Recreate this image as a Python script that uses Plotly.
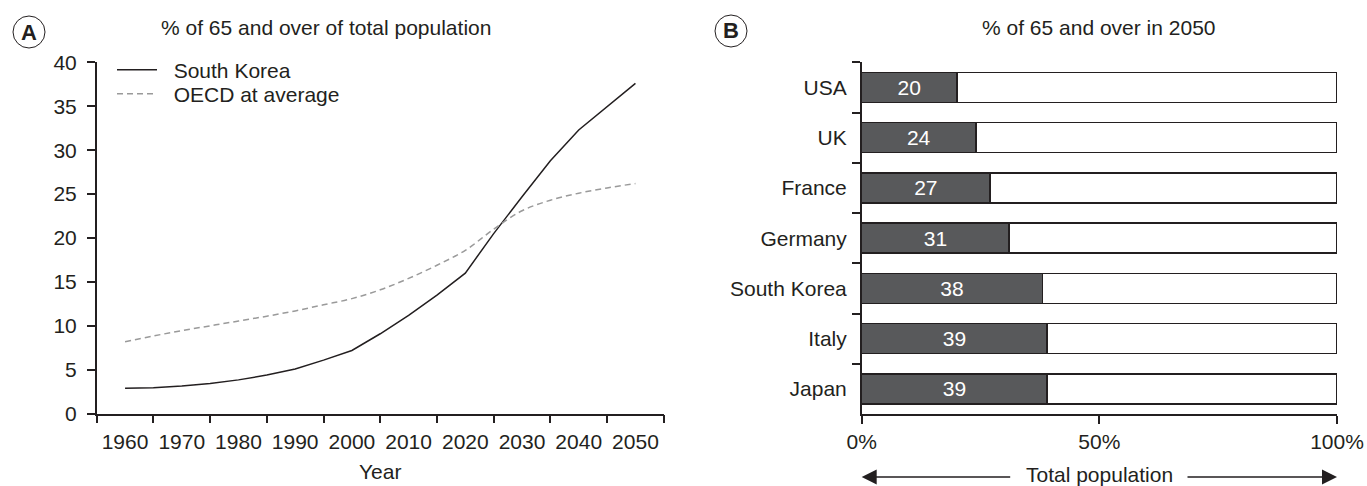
import plotly.graph_objects as go

# ---------------- data ----------------
years = [1960, 1965, 1970, 1975, 1980, 1985, 1990, 1995, 2000, 2005,
         2010, 2015, 2020, 2025, 2030, 2035, 2040, 2045, 2050]
korea = [2.9, 2.95, 3.15, 3.45, 3.85, 4.4, 5.1, 6.1, 7.2, 9.1,
         11.2, 13.5, 16.0, 20.5, 24.7, 28.8, 32.3, 35.0, 37.6]
oecd = [8.2, 8.85, 9.45, 10.0, 10.55, 11.1, 11.7, 12.4, 13.1, 14.1,
        15.4, 16.9, 18.6, 21.0, 23.1, 24.3, 25.1, 25.7, 26.2]

year_ticks = [1960, 1970, 1980, 1990, 2000, 2010, 2020, 2030, 2040, 2050]
y_ticks = [0, 5, 10, 15, 20, 25, 30, 35, 40]

countries = ["USA", "UK", "France", "Germany", "South Korea", "Italy", "Japan"]
share_2050 = [20, 24, 27, 31, 38, 39, 39]
pct_ticks = [0, 50, 100]
pct_labels = ["0%", "50%", "100%"]

# ---------------- styling ----------------
W, H = 1367, 486
FONT = "Liberation Sans, Arial, Helvetica, sans-serif"
INK = "#231f20"
FS = 21


def px_x(p):
    return p / W


def px_y(p):
    return 1 - p / H


fig = go.Figure()

fig.add_trace(go.Scatter(
    x=years, y=korea, mode="lines", name="&nbsp;&nbsp;South Korea",
    line=dict(color=INK, width=1.5), legend="legend",
    xaxis="x", yaxis="y"))
fig.add_trace(go.Scatter(
    x=years, y=oecd, mode="lines", name="&nbsp;&nbsp;OECD at average",
    line=dict(color="#9a9a9a", width=1.5, dash="6px,4px", shape="spline"),
    legend="legend2", xaxis="x", yaxis="y"))

fig.add_trace(go.Bar(
    x=share_2050, y=countries, orientation="h",
    marker=dict(color="#58595b", line=dict(color=INK, width=1.5)),
    text=[str(v) for v in share_2050], textposition="inside",
    insidetextanchor="middle",
    textfont=dict(color="white", size=FS, family=FONT),
    showlegend=False, xaxis="x2", yaxis="y2"))
fig.add_trace(go.Bar(
    x=[100 - v for v in share_2050], y=countries, orientation="h",
    marker=dict(color="white", line=dict(color=INK, width=1.5)),
    showlegend=False, hoverinfo="skip", xaxis="x2", yaxis="y2"))

axis_common = dict(showline=True, linecolor=INK, linewidth=1.5,
                   showgrid=False, zeroline=False, automargin=False,
                   tickfont=dict(family=FONT, size=FS, color=INK),
                   tickwidth=1.5)

legend_common = dict(xanchor="left", yanchor="middle", bgcolor="rgba(0,0,0,0)",
                     font=dict(size=FS, family=FONT, color=INK),
                     itemwidth=40, borderwidth=0)

fig.update_layout(
    width=W, height=H,
    margin=dict(l=0, r=0, t=0, b=0, autoexpand=False),
    paper_bgcolor="white", plot_bgcolor="white",
    font=dict(family=FONT, size=FS, color=INK),
    barmode="stack", bargap=0.4,
    xaxis=dict(**axis_common,
               domain=[px_x(96.7), px_x(663.8)],
               range=[1955, 2055], tickvals=year_ticks,
               ticks="outside", ticklen=8, tickcolor="rgba(0,0,0,0)",
               minor=dict(tick0=1955, dtick=10, ticks="outside", ticklen=8,
                          tickcolor=INK, tickwidth=1.5),
               anchor="y"),
    yaxis=dict(**axis_common,
               domain=[px_y(413.7), px_y(62.3)],
               range=[0, 40], tickvals=y_ticks, tickcolor=INK,
               ticks="outside", ticklen=8, ticklabelstandoff=6, anchor="x"),
    xaxis2=dict(**axis_common,
                domain=[px_x(861.7), px_x(1337)],
                range=[0, 100], tickvals=pct_ticks, ticktext=pct_labels,
                tickcolor=INK, ticks="outside", ticklen=8, anchor="y2"),
    yaxis2=dict(**axis_common,
                domain=[px_y(414), px_y(62.3)],
                type="category", categoryorder="array", categoryarray=countries,
                range=[6.5, -0.5], tickson="boundaries", tickcolor=INK,
                ticks="outside", ticklen=8, ticklabelstandoff=9, anchor="x2"),
    legend=dict(**legend_common, x=px_x(112), y=px_y(70)),
    legend2=dict(**legend_common, x=px_x(112), y=px_y(94)),
    showlegend=True,
)

annotations = [
    dict(text="% of 65 and over of total population", x=px_x(325.7), y=px_y(28),
         xref="paper", yref="paper", showarrow=False, xanchor="center", yanchor="middle",
         font=dict(size=FS, family=FONT, color=INK)),
    dict(text="% of 65 and over in 2050", x=0.5, y=px_y(28),
         xref="x2 domain", yref="paper", showarrow=False, xanchor="center", yanchor="middle",
         font=dict(size=FS, family=FONT, color=INK)),
    dict(text="Year", x=0.5, y=px_y(471), xref="x domain", yref="paper",
         showarrow=False, xanchor="center", yanchor="middle",
         font=dict(size=FS, family=FONT, color=INK)),
    dict(text="Total population", x=0.5, y=px_y(474), xref="x2 domain", yref="paper",
         showarrow=False, xanchor="center", yanchor="middle",
         font=dict(size=FS, family=FONT, color=INK)),
    dict(text="<b>A</b>", x=px_x(29), y=px_y(32), xref="paper", yref="paper",
         showarrow=False, xanchor="center", yanchor="middle",
         font=dict(size=22, family=FONT, color=INK)),
    dict(text="<b>B</b>", x=px_x(731), y=px_y(31), xref="paper", yref="paper",
         showarrow=False, xanchor="center", yanchor="middle",
         font=dict(size=22, family=FONT, color=INK)),
    # double-headed "Total population" arrow
    dict(text="", x=0, y=px_y(477), xref="x2 domain", yref="paper",
         ax=150, ay=0, axref="pixel", ayref="pixel", showarrow=True,
         arrowhead=2, arrowsize=2.0, arrowwidth=1.5, arrowcolor=INK),
    dict(text="", x=1, y=px_y(477), xref="x2 domain", yref="paper",
         ax=-151, ay=0, axref="pixel", ayref="pixel", showarrow=True,
         arrowhead=2, arrowsize=2.0, arrowwidth=1.5, arrowcolor=INK),
]
fig.update_layout(annotations=annotations)

fig.update_layout(shapes=[
    dict(type="circle", xref="paper", yref="paper",
         x0=px_x(13), x1=px_x(45), y0=px_y(48), y1=px_y(16),
         line=dict(color=INK, width=1)),
    dict(type="circle", xref="paper", yref="paper",
         x0=px_x(715), x1=px_x(747), y0=px_y(47), y1=px_y(15),
         line=dict(color=INK, width=1)),
])

fig.write_html("out.html")
